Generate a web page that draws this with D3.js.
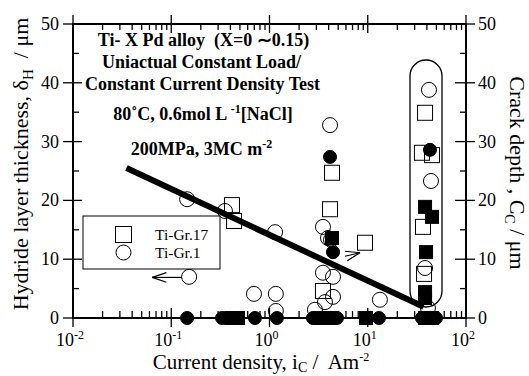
<!DOCTYPE html>
<html><head><meta charset="utf-8">
<script src="https://cdn.jsdelivr.net/npm/d3@7"></script>
<style>
html,body{margin:0;padding:0;background:#fff;}
svg text{font-family:"Liberation Serif","Times New Roman",serif;fill:#000;white-space:pre;}
</style></head><body>
<svg id="chart" width="529" height="376"></svg>
<script>
// Hydride layer thickness (open symbols, left axis)
const gr1HydrideX = [0.145, 0.352, 1.14, 0.152, 0.695, 1.16, 1.16, 4.13, 3.5, 3.94, 4.23, 3.5, 4.43, 4.43, 3.67, 2.90, 13.3, 42.0, 44.0, 38.3, 41.0];
const gr1HydrideY = [20.2, 18.2, 14.6, 7.0, 4.1, 4.1, 1.2, 32.8, 15.5, 13.6, 13.3, 7.7, 7.0, 3.6, 2.7, 1.4, 3.1, 38.8, 23.3, 8.5, 1.7];
const gr17HydrideX = [0.415, 0.436, 4.33, 4.13, 9.38, 3.5, 38.3, 35.6, 45.1, 36.5, 37.4];
const gr17HydrideY = [19.2, 16.5, 24.7, 18.5, 12.8, 4.6, 34.9, 28.1, 27.7, 15.5, 7.5];

// Crack depth (filled symbols, right axis)
const gr1CrackX = [4.13, 4.43, 43.0, 0.145, 0.329, 0.360, 0.711, 1.19, 2.77, 3.12, 3.5, 3.94, 4.43, 4.86, 13.0, 35.6, 40.1, 45.1, 49.5];
const gr1CrackY = [27.4, 11.2, 28.6, 0, 0, 0, 0, 0, 0, 0, 0, 0, 0, 0, 0, 0, 0, 0, 0];
const gr17CrackX = [4.33, 38.3, 45.1, 39.2, 38.3, 38.3, 0.415, 0.446, 0.477, 3.3, 4.13, 9.6, 38.3, 45.1];
const gr17CrackY = [13.6, 18.9, 17.2, 11.2, 4.4, 3.4, 0, 0, 0, 0, 0, 0, 0, 0];

// Trend line and arrow annotations (data coordinates)
const trendX = [0.035, 37];
const trendY = [25.5, 1.9];
const arrowFromX = [0.128, 5.86];
const arrowFromY = [6.9, 10.5];
const arrowToX = [0.064, 8.34];
const arrowToY = [6.9, 11.1];

// Axis ticks
const xMajorExp = [-2, -1, 0, 1, 2];
const yTicks = [0, 10, 20, 30, 40, 50];
const yMinor = [5, 15, 25, 35, 45];

const svg = d3.select("#chart");
const x = d3.scaleLog().domain([0.01, 100]).range([73, 466]);
const yL = d3.scaleLinear().domain([0, 50]).range([318, 24]);
const yR = d3.scaleLinear().domain([0, 50]).range([318, 24]);
const [x0, x1] = x.range();
const [yb, yt] = yL.range();

// Frame
const axisG = svg.append("g").attr("stroke", "#000").attr("fill", "none");
axisG.append("rect").attr("x", x0).attr("y", yt).attr("width", x1 - x0).attr("height", yb - yt).attr("stroke-width", 2);

// X ticks (top and bottom): majors cross the axis, minors point inward
x.ticks().forEach(v => {
  const major = Math.abs(Math.log10(v) - Math.round(Math.log10(v))) < 1e-9;
  const px = x(v);
  if (major) {
    axisG.append("line").attr("x1", px).attr("x2", px).attr("y1", yb - 10).attr("y2", yb + 9).attr("stroke-width", 1.3);
    axisG.append("line").attr("x1", px).attr("x2", px).attr("y1", yt - 9).attr("y2", yt + 9).attr("stroke-width", 1.3);
  } else {
    axisG.append("line").attr("x1", px).attr("x2", px).attr("y1", yb - 7).attr("y2", yb).attr("stroke-width", 1.3);
    axisG.append("line").attr("x1", px).attr("x2", px).attr("y1", yt).attr("y2", yt + 6).attr("stroke-width", 1.3);
  }
});
// Y ticks (left and right)
yTicks.forEach(v => {
  const py = yL(v);
  axisG.append("line").attr("x1", x0 - 10).attr("x2", x0 + 9).attr("y1", py).attr("y2", py).attr("stroke-width", 1.3);
  axisG.append("line").attr("x1", x1 - 11).attr("x2", x1 + 9).attr("y1", yR(v)).attr("y2", yR(v)).attr("stroke-width", 1.3);
});
yMinor.forEach(v => {
  axisG.append("line").attr("x1", x0).attr("x2", x0 + 6).attr("y1", yL(v)).attr("y2", yL(v)).attr("stroke-width", 1.3);
  axisG.append("line").attr("x1", x1 - 6).attr("x2", x1).attr("y1", yR(v)).attr("y2", yR(v)).attr("stroke-width", 1.3);
});

// Tick labels
xMajorExp.forEach(e => {
  const t = svg.append("text").attr("x", x(Math.pow(10, e)) - 3).attr("y", 346).attr("text-anchor", "middle").attr("font-size", 18);
  t.append("tspan").text("10");
  t.append("tspan").attr("dy", -7).attr("font-size", 12).text(e);
});
yTicks.forEach(v => {
  svg.append("text").attr("x", x0 - 14).attr("y", yL(v) + 6).attr("text-anchor", "end").attr("font-size", 18).text(v);
  svg.append("text").attr("x", x1 + 12).attr("y", yR(v) + 6).attr("text-anchor", "start").attr("font-size", 18).text(v);
});

// Axis titles
const xt = svg.append("text").attr("x", 261).attr("y", 369).attr("text-anchor", "middle").attr("font-size", 21);
xt.append("tspan").text("Current density, i");
xt.append("tspan").attr("dy", 3).attr("font-size", 14).text("C");
xt.append("tspan").attr("dy", -3).text(" /  Am");
xt.append("tspan").attr("dy", -8).attr("font-size", 12).text("-2");

const ylt = svg.append("text").attr("transform", "translate(28,164) rotate(-90)").attr("text-anchor", "middle").attr("font-size", 22);
ylt.append("tspan").text("Hydride layer thickness, δ");
ylt.append("tspan").attr("dy", 5).attr("font-size", 15).text("H");
ylt.append("tspan").attr("dy", -5).text("  / μm");

const yrt = svg.append("text").attr("transform", "translate(510,173) rotate(90)").attr("text-anchor", "middle").attr("font-size", 22);
yrt.append("tspan").text("Crack depth , C");
yrt.append("tspan").attr("dy", 5).attr("font-size", 14).text("C");
yrt.append("tspan").attr("dy", -5).text(" / μm");

// Test condition annotation
const note = svg.append("g").attr("font-weight", "bold").attr("font-size", 18);
note.append("text").attr("x", 203.5).attr("y", 46).attr("text-anchor", "middle").text("Ti- X Pd alloy  (X=0 ∼0.15)");
note.append("text").attr("x", 201.5).attr("y", 68).attr("text-anchor", "middle").text("Uniactual Constant Load/");
note.append("text").attr("x", 202.5).attr("y", 90).attr("text-anchor", "middle").text("Constant Current Density Test");
const l4 = note.append("text").attr("x", 203).attr("y", 120).attr("text-anchor", "middle");
l4.append("tspan").text("80˚C, 0.6mol L ");
l4.append("tspan").attr("dy", -7).attr("font-size", 12).text("-1");
l4.append("tspan").attr("dy", 7).text("[NaCl]");
const l5 = note.append("text").attr("x", 201.5).attr("y", 155).attr("text-anchor", "middle");
l5.append("tspan").text("200MPa, 3MC m");
l5.append("tspan").attr("dy", -7).attr("font-size", 12).text("-2");

// Grouping outline around the high current density results
svg.append("rect").attr("x", 410).attr("y", 60).attr("width", 32).attr("height", 247).attr("rx", 16).attr("ry", 16)
  .attr("fill", "none").attr("stroke", "#000").attr("stroke-width", 1.3);

// Markers
const pts = (xs, ys) => xs.map((v, i) => [v, ys[i]]);
const marks = svg.append("g").attr("stroke", "#000");
marks.selectAll("circle.open").data(pts(gr1HydrideX, gr1HydrideY)).join("circle")
  .attr("cx", d => x(d[0])).attr("cy", d => yL(d[1])).attr("r", 7.5).attr("fill", "none").attr("stroke-width", 1);
marks.selectAll("rect.open").data(pts(gr17HydrideX, gr17HydrideY)).join("rect")
  .attr("x", d => x(d[0]) - 7.5).attr("y", d => yL(d[1]) - 7.5).attr("width", 15).attr("height", 15).attr("fill", "none").attr("stroke-width", 1);
marks.selectAll("rect.fill").data(pts(gr17CrackX, gr17CrackY)).join("rect")
  .attr("x", d => x(d[0]) - 6.5).attr("y", d => yR(d[1]) - 6.5).attr("width", 13).attr("height", 13).attr("fill", "#000");
marks.selectAll("circle.fill").data(pts(gr1CrackX, gr1CrackY)).join("circle")
  .attr("cx", d => x(d[0])).attr("cy", d => yR(d[1])).attr("r", 6.5).attr("fill", "#000");

// Trend line
svg.append("line").attr("x1", x(trendX[0])).attr("y1", yL(trendY[0])).attr("x2", x(trendX[1])).attr("y2", yL(trendY[1]))
  .attr("stroke", "#000").attr("stroke-width", 6);

// Arrows pointing to the axis each symbol belongs to
arrowFromX.forEach((fx, i) => {
  const ax = x(fx), ay = yL(arrowFromY[i]), bx = x(arrowToX[i]), by = yL(arrowToY[i]);
  const ang = Math.atan2(by - ay, bx - ax), L = 15, a = 0.33;
  const g = svg.append("g").attr("stroke", "#000").attr("stroke-width", 1.2).attr("fill", "none");
  g.append("line").attr("x1", ax).attr("y1", ay).attr("x2", bx).attr("y2", by);
  g.append("line").attr("x1", bx).attr("y1", by).attr("x2", bx - L * Math.cos(ang - a)).attr("y2", by - L * Math.sin(ang - a));
  g.append("line").attr("x1", bx).attr("y1", by).attr("x2", bx - L * Math.cos(ang + a)).attr("y2", by - L * Math.sin(ang + a));
});

// Legend
const leg = svg.append("g");
leg.append("rect").attr("x", 83).attr("y", 216).attr("width", 137).attr("height", 53).attr("fill", "#fff").attr("stroke", "#000").attr("stroke-width", 1);
leg.append("rect").attr("x", 115.5).attr("y", 226.5).attr("width", 16).attr("height", 16).attr("fill", "none").attr("stroke", "#000").attr("stroke-width", 1);
leg.append("circle").attr("cx", 123.5).attr("cy", 252.5).attr("r", 7.5).attr("fill", "none").attr("stroke", "#000").attr("stroke-width", 1);
leg.append("text").attr("x", 155).attr("y", 240).attr("font-size", 15.5).text("Ti-Gr.17");
leg.append("text").attr("x", 155).attr("y", 258).attr("font-size", 15.5).text("Ti-Gr.1");
</script>
</body></html>
